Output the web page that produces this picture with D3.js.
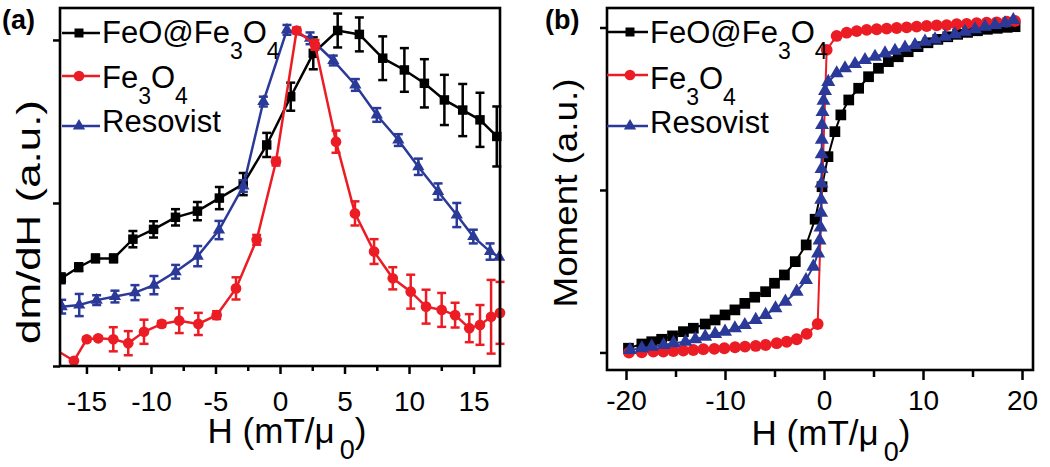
<!DOCTYPE html>
<html>
<head>
<meta charset="utf-8">
<script src="https://cdn.jsdelivr.net/npm/d3@7"></script>
<style>
  body { margin: 0; background: #fff; }
  svg { display: block; }
  text { font-family: "Liberation Sans", Arial, sans-serif; fill: #000; }
</style>
</head>
<body>
<div id="chart"></div>
<script>
// ---- panel (a): dm/dH vs H ----
const aTicks = [-15, -10, -5, 0, 5, 10, 15];
const aMinor = [-12.5, -7.5, -2.5, 2.5, 7.5, 12.5];
const aYTicks = [0, 0.5, 1];

const aHBlack = [-16.95, -15.6, -14.3, -12.9, -11.4, -9.8, -8.1, -6.4, -4.7, -2.85, -1.03, 0.83, 2.58, 4.47, 6.15, 7.96, 9.64, 11.19, 12.74, 14.16, 15.5, 16.8];
const aVBlack = [0.269, 0.303, 0.330, 0.330, 0.389, 0.419, 0.456, 0.475, 0.515, 0.558, 0.678, 0.826, 0.959, 1.029, 1.017, 0.944, 0.908, 0.867, 0.816, 0.785, 0.755, 0.704];
const aEBlack = [0.015, 0.012, 0.012, 0.012, 0.025, 0.025, 0.025, 0.028, 0.034, 0.034, 0.037, 0.043, 0.049, 0.052, 0.052, 0.067, 0.067, 0.074, 0.077, 0.080, 0.083, 0.092];

const aHRed = [-17.4, -15.97, -14.98, -14.09, -12.92, -11.76, -10.54, -9.17, -7.81, -6.33, -4.91, -3.41, -1.81, -0.31, 1.29, 2.71, 4.34, 5.81, 7.29, 8.74, 10.13, 11.32, 12.53, 13.57, 14.67, 15.5, 16.36, 17.05];
const aVRed = [0.050, 0.016, 0.082, 0.085, 0.082, 0.070, 0.105, 0.129, 0.139, 0.129, 0.156, 0.238, 0.387, 0.627, 1.029, 0.985, 0.688, 0.468, 0.351, 0.269, 0.228, 0.182, 0.172, 0.156, 0.116, 0.126, 0.151, 0.163];
const aERed = [0, 0, 0.006, 0.006, 0.037, 0.037, 0.037, 0.009, 0.038, 0.034, 0.012, 0.034, 0.015, 0.012, 0.009, 0.015, 0.034, 0.037, 0.038, 0.034, 0.052, 0.052, 0.052, 0.038, 0.043, 0.061, 0.113, 0.095];

const aHBlue = [-16.92, -15.56, -14.21, -12.79, -11.24, -9.77, -8.09, -6.38, -4.73, -2.84, -1.29, 0.54, 2.33, 4.13, 5.84, 7.50, 9.17, 10.72, 12.25, 13.70, 14.98, 16.28, 16.98];
const aVBlue = [0.182, 0.187, 0.202, 0.213, 0.225, 0.248, 0.289, 0.337, 0.417, 0.552, 0.811, 1.031, 1.005, 0.937, 0.862, 0.770, 0.693, 0.611, 0.535, 0.463, 0.397, 0.351, 0.334];
const aEBlue = [0.021, 0.034, 0.015, 0.018, 0.023, 0.028, 0.021, 0.031, 0.028, 0.018, 0.015, 0.015, 0.018, 0.015, 0.018, 0.021, 0.018, 0.025, 0.025, 0.037, 0.021, 0.025, 0];

// ---- panel (b): moment vs H ----
const bTicks = [-20, -10, 0, 10, 20];
const bMinor = [-15, -5, 5, 15];
const bYTicks = [-1, 0, 1];

const bHBlack = [-19.75, -18.4, -17.4, -16.4, -15.3, -14.2, -13.2, -12.0, -11.0, -10.0, -9.0, -8.0, -7.0, -5.9, -5.0, -4.0, -2.9, -1.8, -0.9, -0.2, 0.4, 1.1, 1.7, 2.5, 3.5, 4.5, 5.5, 6.5, 7.5, 8.5, 9.5, 10.5, 11.5, 12.5, 13.5, 14.5, 15.5, 16.5, 17.5, 18.5, 19.3];
const bMBlack = [-0.974, -0.948, -0.934, -0.919, -0.898, -0.872, -0.851, -0.825, -0.800, -0.769, -0.738, -0.698, -0.660, -0.626, -0.574, -0.523, -0.441, -0.338, -0.180, 0.020, 0.205, 0.359, 0.462, 0.554, 0.626, 0.697, 0.749, 0.790, 0.820, 0.851, 0.882, 0.906, 0.927, 0.943, 0.958, 0.970, 0.980, 0.989, 0.995, 1.001, 1.005];

const bHRed = [-19.7, -18.41, -17.24, -16.23, -15.22, -14.21, -13.20, -12.19, -11.08, -10.07, -8.99, -7.98, -6.90, -5.89, -4.78, -3.77, -2.76, -1.75, -0.64, 0.27, 1.28, 2.29, 3.30, 4.31, 5.32, 6.33, 7.34, 8.35, 9.36, 10.37, 11.38, 12.39, 13.40, 14.41, 15.42, 16.43, 17.44, 18.45, 19.29];
const bMRed = [-1.001, -0.999, -0.995, -0.995, -0.991, -0.989, -0.985, -0.980, -0.978, -0.974, -0.968, -0.964, -0.960, -0.954, -0.943, -0.934, -0.919, -0.886, -0.825, 0.862, 0.948, 0.968, 0.978, 0.985, 0.989, 0.993, 0.997, 1.001, 1.005, 1.009, 1.013, 1.015, 1.020, 1.022, 1.026, 1.030, 1.032, 1.036, 1.040];

const bHBlue = [-19.6, -18.4, -17.4, -16.2, -15.2, -14.0, -13.0, -12.0, -11.0, -10.0, -9.0, -8.0, -6.9, -5.9, -4.9, -3.9, -2.76, -1.82, -1.08, -0.6,
  -0.45, -0.35, -0.3, -0.28, -0.26, -0.25, -0.24, -0.22, -0.2, -0.15, -0.05, 0.1, 0.43,
  1.28, 2.12, 3.13, 4.14, 5.15, 6.16, 7.17, 8.18, 9.19, 10.20, 11.21, 12.22, 13.23, 14.24, 15.25, 16.26, 17.27, 18.28, 19.12];
const bMBlue = [-0.985, -0.974, -0.964, -0.954, -0.943, -0.934, -0.919, -0.903, -0.886, -0.872, -0.851, -0.831, -0.800, -0.769, -0.728, -0.687, -0.626, -0.554, -0.472, -0.390,
  -0.31, -0.23, -0.14, -0.06, 0.04, 0.13, 0.22, 0.31, 0.40, 0.48, 0.55, 0.61, 0.665,
  0.718, 0.749, 0.775, 0.800, 0.820, 0.841, 0.857, 0.876, 0.892, 0.913, 0.927, 0.943, 0.958, 0.974, 0.989, 1.005, 1.015, 1.026, 1.046];

// legend names as [text, isSubscript] pieces
const nameFeO = [["FeO@Fe", 0], ["3", 1], ["O", 0], ["4", 1]];
const nameFe3O4 = [["Fe", 0], ["3", 1], ["O", 0], ["4", 1]];
const nameReso = [["Resovist", 0]];
const xTitle = [["H (mT/\u03bc", 0], ["0", 1], [")", 0]];

const BLACK = "#000", RED = "#ec1c24", BLUE = "#2b3a98";

const width = 1050, height = 467;
const svg = d3.select("#chart").append("svg").attr("width", width).attr("height", height);

// text with subscripts
function rich(t, parts, subSize, shift, subDx) {
  let down = false;
  parts.forEach(([s, sub]) => {
    const ts = t.append("tspan").text(s);
    if (sub) {
      ts.attr("font-size", subSize);
      if (!down) { ts.attr("dy", shift); down = true; if (subDx) ts.attr("dx", subDx); }
    } else if (down) {
      ts.attr("dy", -shift); down = false;
    }
  });
}

function marker(type, size) {
  return d3.symbol().type(type).size(size)();
}

function drawPanel(p) {
  const x = d3.scaleLinear().domain(p.xDomain).range([p.left, p.right]);
  const y = d3.scaleLinear().domain(p.yDomain).range([p.bottom, p.top]);

  svg.append("clipPath").attr("id", p.clip)
    .append("rect")
    .attr("x", p.left).attr("y", 0)
    .attr("width", p.right - p.left + 8).attr("height", p.bottom + 2);

  const g = svg.append("g").attr("clip-path", `url(#${p.clip})`);

  // series
  p.series.forEach(s => {
    const pts = d3.zip(s.h, s.v, s.e || s.h.map(() => 0));
    g.append("path")
      .datum(pts)
      .attr("fill", "none")
      .attr("stroke", s.color)
      .attr("stroke-width", p.lineW)
      .attr("d", d3.line().x(d => x(d[0])).y(d => y(d[1])));
    if (s.e) {
      const eb = g.append("g").attr("stroke", s.color).attr("stroke-width", 2.5);
      pts.filter(d => d[2] > 0).forEach(d => {
        const cx = x(d[0]);
        eb.append("line").attr("x1", cx).attr("x2", cx).attr("y1", y(d[1] - d[2])).attr("y2", y(d[1] + d[2]));
        eb.append("line").attr("x1", cx - 4.5).attr("x2", cx + 4.5).attr("y1", y(d[1] - d[2])).attr("y2", y(d[1] - d[2]));
        eb.append("line").attr("x1", cx - 4.5).attr("x2", cx + 4.5).attr("y1", y(d[1] + d[2])).attr("y2", y(d[1] + d[2]));
      });
    }
    g.append("g").selectAll("path")
      .data(pts.filter(d => d[0] >= p.xDomain[0]))
      .join("path")
      .attr("transform", d => `translate(${x(d[0])},${y(d[1])})`)
      .attr("d", marker(s.sym, s.size))
      .attr("fill", s.color);
  });

  // frame
  svg.append("rect")
    .attr("x", p.left).attr("y", p.top)
    .attr("width", p.right - p.left).attr("height", p.bottom - p.top)
    .attr("fill", "none").attr("stroke", "#000").attr("stroke-width", 2.6);

  // axes
  const xa = svg.append("g").attr("transform", `translate(0,${p.bottom})`)
    .call(d3.axisBottom(x).tickValues(p.ticks).tickSize(p.tickLen).tickFormat(d => String(d)));
  xa.select(".domain").remove();
  xa.selectAll("line").attr("stroke-width", 2.5);
  xa.selectAll("text").attr("y", p.labelY).attr("dy", 0).attr("font-size", 28)
    .style("font-family", '"Liberation Sans", Arial, sans-serif');

  const xm = svg.append("g").attr("transform", `translate(0,${p.bottom})`)
    .call(d3.axisBottom(x).tickValues(p.minor).tickSize(p.tickLen - 3).tickFormat(""));
  xm.select(".domain").remove();
  xm.selectAll("line").attr("stroke-width", 2.5);

  const ya = svg.append("g").attr("transform", `translate(${p.left},0)`)
    .call(d3.axisLeft(y).tickValues(p.yTicks).tickSize(7).tickFormat(""));
  ya.select(".domain").remove();
  ya.selectAll("line").attr("stroke-width", 2.5);

  // axis titles
  const xt = svg.append("text")
    .attr("x", p.xTitleX).attr("y", p.xTitleY)
    .attr("text-anchor", "middle").attr("font-size", 35);
  rich(xt, xTitle, 27, 16, 5);

  svg.append("text")
    .attr("transform", `translate(${p.yTitleX},${p.yTitleY}) rotate(-90)`)
    .attr("text-anchor", "middle").attr("font-size", 33)
    .attr("textLength", p.yTitleLen).attr("lengthAdjust", "spacingAndGlyphs")
    .text(p.yTitle);

  // panel letter
  svg.append("text")
    .attr("x", p.letterX).attr("y", 29)
    .attr("font-size", 27).attr("font-weight", "bold")
    .text(p.letter);

  // legend
  p.legend.forEach((l, i) => {
    const ly = p.legRows[i];
    svg.append("line")
      .attr("x1", p.legX0).attr("x2", p.legX1).attr("y1", ly).attr("y2", ly)
      .attr("stroke", l.color).attr("stroke-width", 2.5);
    svg.append("path")
      .attr("transform", `translate(${p.legMark},${ly})`)
      .attr("d", marker(l.sym, l.size))
      .attr("fill", l.color);
    const t = svg.append("text")
      .attr("x", p.legX1 + 2).attr("y", p.legBase[i])
      .attr("font-size", 31);
    rich(t, l.name, 23, 16, 0);
  });
}

drawPanel({
  clip: "clipA",
  left: 60, right: 500, top: 8, bottom: 366,
  xDomain: [-17.05, 17.05], yDomain: [0, 1.098],
  ticks: aTicks, minor: aMinor, yTicks: aYTicks,
  tickLen: 8, labelY: 45, lineW: 2.5,
  xTitleX: 287, xTitleY: 443,
  yTitle: "dm/dH (a.u.)", yTitleX: 40, yTitleY: 222, yTitleLen: 244,
  letter: "(a)", letterX: 2,
  legX0: 62, legX1: 100, legMark: 79,
  legRows: [33, 76, 126], legBase: [43, 88, 132],
  legend: [
    { name: nameFeO, color: BLACK, sym: d3.symbolSquare, size: 81 },
    { name: nameFe3O4, color: RED, sym: d3.symbolCircle, size: 90 },
    { name: nameReso, color: BLUE, sym: d3.symbolTriangle, size: 65 }
  ],
  series: [
    { h: aHBlack, v: aVBlack, e: aEBlack, color: BLACK, sym: d3.symbolSquare, size: 90 },
    { h: aHBlue, v: aVBlue, e: aEBlue, color: BLUE, sym: d3.symbolTriangle, size: 65 },
    { h: aHRed, v: aVRed, e: aERed, color: RED, sym: d3.symbolCircle, size: 90 }
  ]
});

drawPanel({
  clip: "clipB",
  left: 607, right: 1033, top: 8, bottom: 370,
  xDomain: [-21.92, 21.11], yDomain: [-1.108, 1.12],
  ticks: bTicks, minor: bMinor, yTicks: bYTicks,
  tickLen: 10, labelY: 40, lineW: 2,
  xTitleX: 831, xTitleY: 445,
  yTitle: "Moment (a.u.)", yTitleX: 577, yTitleY: 193, yTitleLen: 229,
  letter: "(b)", letterX: 545,
  legX0: 607, legX1: 648, legMark: 630,
  legRows: [32, 75, 126], legBase: [43, 89, 133],
  legend: [
    { name: nameFeO, color: BLACK, sym: d3.symbolSquare, size: 81 },
    { name: nameFe3O4, color: RED, sym: d3.symbolCircle, size: 90 },
    { name: nameReso, color: BLUE, sym: d3.symbolTriangle, size: 65 }
  ],
  series: [
    { h: bHBlack, v: bMBlack, color: BLACK, sym: d3.symbolSquare, size: 115 },
    { h: bHRed, v: bMRed, color: RED, sym: d3.symbolCircle, size: 110 },
    { h: bHBlue, v: bMBlue, color: BLUE, sym: d3.symbolTriangle, size: 85 }
  ]
});
</script>
</body>
</html>
